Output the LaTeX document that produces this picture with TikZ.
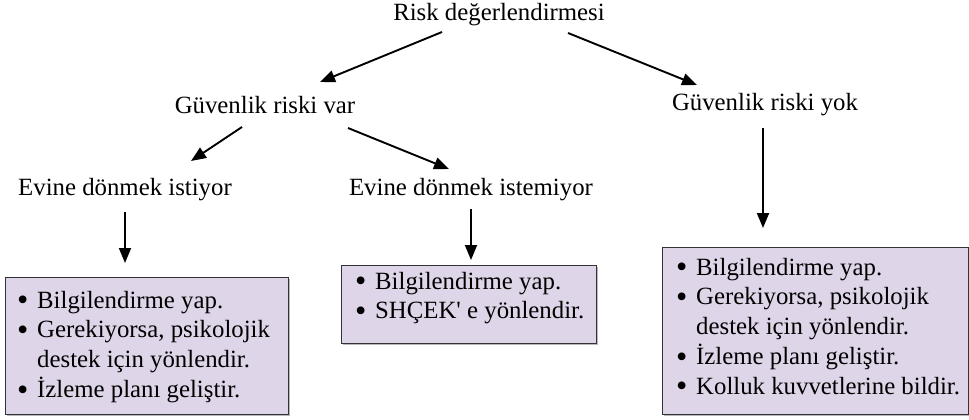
\documentclass[tikz,border=0pt]{standalone}
\usepackage{fontspec}
\setmainfont{Liberation Serif}
\newfontfamily\rawserif{Liberation Serif}[Ligatures=Common]
\usetikzlibrary{arrows.meta,shadows}
\definecolor{boxfill}{RGB}{223,213,232}
\definecolor{boxline}{RGB}{50,50,55}
\newcommand\itm{\makebox[20pt][l]{\raisebox{-2.6pt}{\scalebox{1.3}{\textbullet}}}}
\newcommand\ind{\hspace*{20pt}}
\newcommand\boxlines[1]{\parbox[t]{300pt}{\raggedright\fontsize{24.8}{29.8}\selectfont #1}}
\begin{document}
\begin{tikzpicture}[x=1pt,y=1pt,
  lbl/.style={inner sep=0pt, font=\fontsize{24.8}{30}\selectfont},
  infobox/.style={draw=boxline, line width=1.4pt, fill=boxfill, anchor=north west,
    inner sep=0pt,
    drop shadow={shadow xshift=1.2pt, shadow yshift=-1.2pt, fill=gray!70, opacity=0.8}},
  boxtext/.style={inner sep=0pt, anchor=base west},
  arr/.style={line width=1.9pt, -{Triangle[length=15pt,width=12pt]}}]
\useasboundingbox (0,0) rectangle (969,-420);
% labels
\node[lbl] (risk) at (499,-15) {Risk değerlendirmesi};
\node[lbl] (grv) at (265,-105) {Güvenlik riski var};
\node[lbl] (gry) at (765,-105) {Güvenlik riski yok};
\node[lbl] (edi) at (125,-190) {Evine dönmek istiyor};
\node[lbl] (edn) at (471,-190) {Evine dönmek istemiyor};
% boxes
\node[infobox, minimum width=283pt, minimum height=137pt] (boxL) at (5,-277) {};
\node[infobox, minimum width=255pt, minimum height=78pt] (boxM) at (341,-265) {};
\node[infobox, minimum width=306pt, minimum height=167pt] (boxR) at (662,-247) {};
\node[boxtext] (tL) at ([shift={(12,-31)}]boxL.north west)
  {\boxlines{\itm Bilgilendirme yap.\\ \itm Gerekiyorsa, psikolojik\\ \ind destek için yönlendir.\\ \itm İzleme planı geliştir.}};
\node[boxtext] (tM) at ([shift={(14,-24)}]boxM.north west)
  {\boxlines{\itm Bilgilendirme yap.\\ \itm SHÇEK{\rawserif '} e yönlendir.}};
\node[boxtext] (tR) at ([shift={(14,-28)}]boxR.north west)
  {\boxlines{\itm Bilgilendirme yap.\\ \itm Gerekiyorsa, psikolojik\\ \ind destek için yönlendir.\\ \itm İzleme planı geliştir.\\ \itm Kolluk kuvvetlerine bildir.}};
% arrows
\draw[arr] ([shift={(-57,-17)}]risk.center) -- ([shift={(55,23)}]grv.center);
\draw[arr] ([shift={(69,-18)}]risk.center) -- ([shift={(-68,20)}]gry.center);
\draw[arr] ([shift={(-23,-22)}]grv.center) -- ([shift={(66,29)}]edi.center);
\draw[arr] ([shift={(83,-23)}]grv.center) -- ([shift={(-22,21)}]edn.center);
\draw[arr] ([shift={(-2,-23)}]gry.center) -- ([shift={(101,19)}]boxR.north west);
\draw[arr] ([shift={(0,-22)}]edi.center) -- ([shift={(120,14)}]boxL.north west);
\draw[arr] ([shift={(0,-19)}]edn.center) -- ([shift={(130,5)}]boxM.north west);
\end{tikzpicture}
\end{document}
